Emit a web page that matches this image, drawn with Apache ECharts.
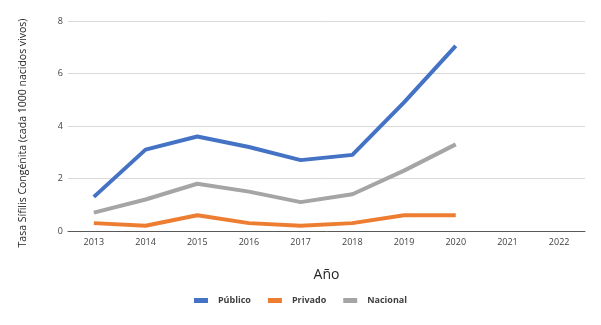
<!DOCTYPE html>
<html><head><meta charset="utf-8">
<script src="https://cdn.jsdelivr.net/npm/echarts@6/dist/echarts.min.js"></script>
<style>html,body{margin:0;padding:0;background:#fff}#c{width:601px;height:325px}</style>
</head><body><div id="c"></div>
<script>
const categories = ['2013','2014','2015','2016','2017','2018','2019','2020','2021','2022'];
const publico = [1.3, 3.1, 3.6, 3.2, 2.7, 2.9, 4.9, 7.05, null, null];
const privado = [0.3, 0.2, 0.6, 0.3, 0.2, 0.3, 0.6, 0.6, null, null];
const nacional = [0.7, 1.2, 1.8, 1.5, 1.1, 1.4, 2.3, 3.3, null, null];
const yTicks = [0, 2, 4, 6, 8];

const font = '"Open Sans", "Liberation Sans", sans-serif';
const chart = echarts.init(document.getElementById('c'));
const mk = (name, data, color) => ({
  name, type: 'line', data, symbol: 'none', smooth: false,
  lineStyle: {width: 4, color}, itemStyle: {color}, animation: false
});
chart.setOption({
  animation: false,
  grid: {left: 68, right: 16, top: 21, bottom: 94},
  legend: {
    bottom: 15, left: 'center', itemWidth: 14, itemHeight: 5, itemGap: 17,
    icon: 'rect',
    textStyle: {fontFamily: font, fontSize: 9, fontWeight: 'bold', color: '#404040', padding: [0,0,0,5]},
    data: ['Público', 'Privado', 'Nacional']
  },
  xAxis: {
    type: 'category', data: categories, boundaryGap: true,
    name: 'Año', nameLocation: 'middle', nameGap: 37,
    nameTextStyle: {fontFamily: font, fontSize: 14, color: '#262626'},
    axisLine: {lineStyle: {color: '#595959', width: 1}},
    axisTick: {show: false},
    axisLabel: {fontFamily: font, fontSize: 9, color: '#404040', margin: 7}
  },
  yAxis: {
    type: 'value', min: 0, max: 8, interval: 2,
    name: 'Tasa Sífilis Congénita (cada 1000 nacidos vivos)',
    nameLocation: 'middle', nameGap: 39, nameRotate: 90,
    nameTextStyle: {fontFamily: font, fontSize: 10.5, color: '#262626', padding: [0, 14, 0, 0]},
    axisLine: {show: false}, axisTick: {show: false},
    axisLabel: {fontFamily: font, fontSize: 9, color: '#404040', margin: 5,
      formatter: v => yTicks.includes(v) ? String(v) : ''},
    splitLine: {lineStyle: {color: '#d9d9d9', width: 1}}
  },
  series: [
    mk('Público', publico, '#4472C4'),
    mk('Privado', privado, '#ED7D31'),
    mk('Nacional', nacional, '#A5A5A5')
  ]
});
</script></body></html>
